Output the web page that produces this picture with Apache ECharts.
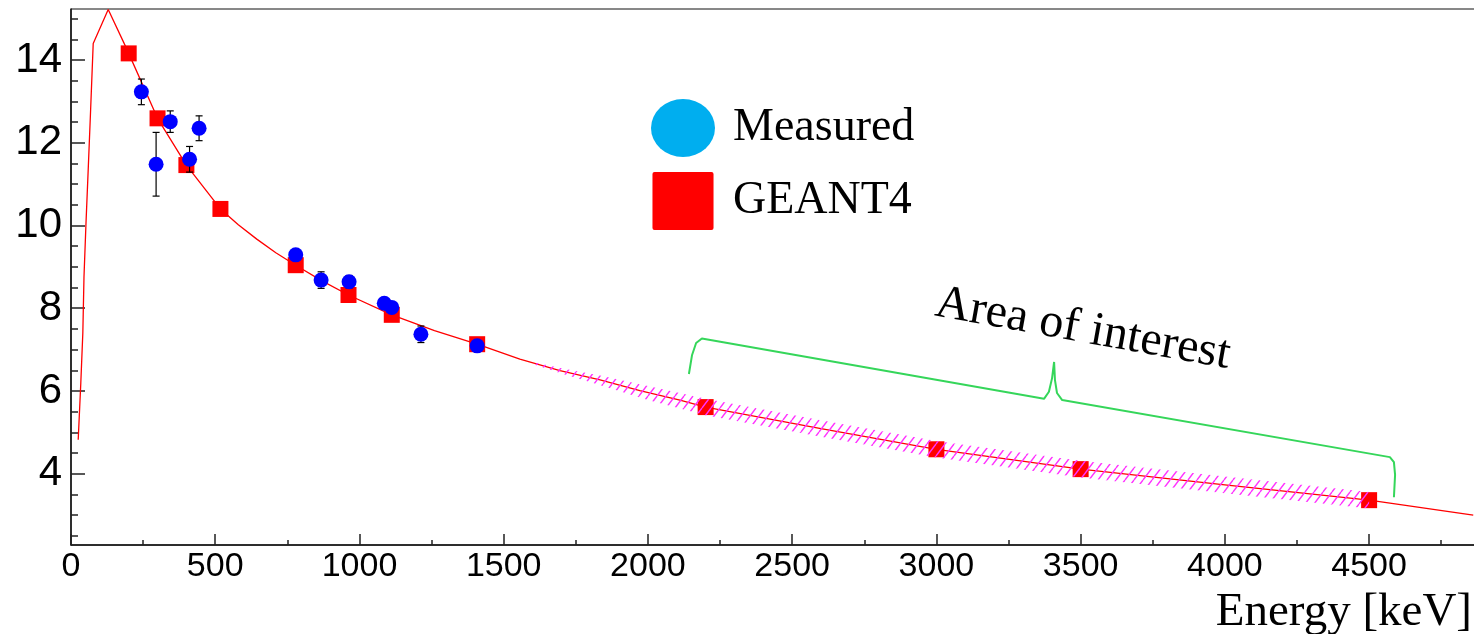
<!DOCTYPE html>
<html>
<head>
<meta charset="utf-8">
<script src="https://cdn.jsdelivr.net/npm/echarts@6/dist/echarts.min.js"></script>
<style>
html,body{margin:0;padding:0;background:#fff;}
#chart{width:1474px;height:634px;}
</style>
</head>
<body>
<div id="chart"></div>
<script>
// ---------------- data ----------------
const measuredEnergy = [244, 295, 344, 411, 444, 779, 867, 964, 1086, 1112, 1213, 1408];
const measuredValue  = [13.23, 11.48, 12.51, 11.60, 12.35, 9.29, 8.68, 8.64, 8.12, 8.02, 7.37, 7.09];
const measuredError  = [0.31, 0.77, 0.26, 0.31, 0.30, 0.12, 0.20, 0.15, 0.10, 0.10, 0.20, 0.10];

const geantEnergy = [200, 300, 400, 518, 779, 962, 1112, 1408, 2200, 3000, 3500, 4500];
const geantValue  = [14.16, 12.59, 11.46, 10.40, 9.04, 8.32, 7.84, 7.13, 5.61, 4.59, 4.11, 3.36];

const curveEnergy = [25, 34, 41, 45, 52, 60, 68, 77, 129, 187, 200, 300, 400, 518, 580, 644, 710, 779, 870, 962, 1112, 1260, 1408, 1556, 1695, 1834, 1972, 2111, 2200, 2600, 3000, 3500, 4000, 4500, 4861];
const curveValue  = [4.82, 6.19, 7.40, 8.75, 10.06, 11.41, 12.79, 14.40, 15.22, 14.36, 14.16, 12.59, 11.46, 10.40, 10.02, 9.67, 9.34, 9.04, 8.66, 8.32, 7.84, 7.46, 7.13, 6.77, 6.49, 6.27, 6.01, 5.78, 5.61, 5.09, 4.59, 4.11, 3.73, 3.36, 3.00];

const bandEnergy = [1600, 1700, 1830, 2000, 2200, 2600, 3000, 3500, 4000, 4500];
const bandLow    = [6.65, 6.42, 6.15, 5.78, 5.41, 4.89, 4.39, 3.91, 3.53, 3.16];
const bandHigh   = [6.70, 6.55, 6.38, 6.12, 5.81, 5.29, 4.79, 4.31, 3.93, 3.56];

const xMajorTicks = [0, 500, 1000, 1500, 2000, 2500, 3000, 3500, 4000, 4500];
const xMinorTicks = [250, 750, 1250, 1750, 2250, 2750, 3250, 3750, 4250, 4750];
const yMajorTicks = [4, 6, 8, 10, 12, 14];
const yMinorTicks = [2.5, 3, 3.5, 4.5, 5, 5.5, 6.5, 7, 7.5, 8.5, 9, 9.5, 10.5, 11, 11.5, 12.5, 13, 13.5, 14.5, 15];

const bracketEnergy = [2142, 2153, 2167, 2187, 3373, 3390, 3401, 3408, 3411, 3418, 3436, 4572, 4586, 4590, 4586];
const bracketValue  = [6.41, 6.87, 7.16, 7.27, 5.81, 5.98, 6.31, 6.70, 6.26, 5.95, 5.78, 4.40, 4.28, 3.97, 3.43];

const annotationText = 'Area of interest';
const annotationAnchor = [3508, 7.49];
const xTitle = 'Energy [keV]';
const seriesNames = ['Measured', 'GEANT4'];

// ---------------- helpers ----------------
function zip(a, b) { return a.map((v, i) => [v, b[i]]); }

function makeHatch() {
  const w = 9, h = 12;
  const c = document.createElement('canvas');
  c.width = w; c.height = h;
  const g = c.getContext('2d');
  g.strokeStyle = '#ff33ff';
  g.lineWidth = 1.4;
  g.beginPath();
  for (const dx of [-w, 0, w]) { g.moveTo(dx, h); g.lineTo(dx + w, 0); }
  g.stroke();
  return c;
}
const hatch = makeHatch();

const X_MIN = 0, X_MAX = 4874, Y_MIN = 2.276, Y_MAX = 15.233;
const axisColor = '#111';
const plainNum = v => String(v);

const chart = echarts.init(document.getElementById('chart'), null, { renderer: 'canvas' });

const option = {
  animation: false,
  backgroundColor: '#fff',
  grid: { left: 71, right: -3, top: 9, bottom: 89, containLabel: false, outerBoundsMode: 'none', show: true, borderColor: axisColor, borderWidth: 1, backgroundColor: 'transparent' },
  legend: {
    orient: 'vertical', left: 646, top: 94, itemWidth: 64, itemHeight: 58, itemGap: 15,
    selectedMode: false,
    textStyle: { fontFamily: 'Liberation Serif', fontSize: 46, color: '#000', padding: [0, 0, 0, 13] },
    data: [
      { name: seriesNames[0], icon: 'path://M0,29A32,29 0 1,1 64,29A32,29 0 1,1 0,29Z', itemStyle: { color: '#00aeef', opacity: 1 } },
      { name: seriesNames[1], icon: 'path://M2,0H58A2,2 0 0,1 60,2V55A2,2 0 0,1 58,57H2A2,2 0 0,1 0,55V2A2,2 0 0,1 2,0Z', itemStyle: { color: '#ff0000', opacity: 1 } }
    ]
  },
  xAxis: [
    {
      type: 'value', min: X_MIN, max: X_MAX, position: 'bottom',
      axisLine: { show: true, onZero: false, lineStyle: { color: axisColor, width: 1.5 } },
      axisTick: { show: true, inside: true, length: 11, customValues: xMajorTicks, lineStyle: { color: '#222', width: 1.5 } },
      axisLabel: { customValues: xMajorTicks, formatter: plainNum, fontFamily: 'Liberation Sans', fontSize: 34, color: '#000', margin: 5 },
      splitLine: { show: false }
    },
    {
      type: 'value', min: X_MIN, max: X_MAX, position: 'bottom',
      axisLine: { show: false, onZero: false },
      axisTick: { show: true, inside: true, length: 5, customValues: xMinorTicks, lineStyle: { color: '#222', width: 1.5 } },
      axisLabel: { show: false },
      splitLine: { show: false }
    }
  ],
  yAxis: [
    {
      type: 'value', min: Y_MIN, max: Y_MAX, position: 'left',
      axisLine: { show: true, onZero: false, lineStyle: { color: axisColor, width: 1.5 } },
      axisTick: { show: true, inside: true, length: 14, customValues: yMajorTicks, lineStyle: { color: '#222', width: 1.5 } },
      axisLabel: { customValues: yMajorTicks, formatter: plainNum, fontFamily: 'Liberation Sans', fontSize: 42, color: '#000', margin: 9 },
      splitLine: { show: false }
    },
    {
      type: 'value', min: Y_MIN, max: Y_MAX, position: 'left',
      axisLine: { show: false, onZero: false },
      axisTick: { show: true, inside: true, length: 7, customValues: yMinorTicks, lineStyle: { color: '#222', width: 1.5 } },
      axisLabel: { show: false },
      splitLine: { show: false }
    }
  ],
  series: [
    {
      name: 'Simulation curve', type: 'line', xAxisIndex: 0, yAxisIndex: 0,
      data: zip(curveEnergy, curveValue), symbol: 'none', smooth: false,
      lineStyle: { color: '#ff0000', width: 1.3, opacity: 1 }, z: 2, silent: true, clip: true
    },
    {
      name: 'Area of interest bracket', type: 'line', xAxisIndex: 0, yAxisIndex: 0,
      data: zip(bracketEnergy, bracketValue), symbol: 'none', smooth: false,
      lineStyle: { color: '#35d65a', width: 2, opacity: 1 }, z: 2, silent: true
    },
    {
      name: seriesNames[1], type: 'scatter', xAxisIndex: 0, yAxisIndex: 0,
      data: zip(geantEnergy, geantValue), symbol: 'rect', symbolSize: 16,
      itemStyle: { color: '#ff0000', opacity: 1 }, z: 3, silent: true
    },
    {
      name: 'Uncertainty band', type: 'custom', xAxisIndex: 0, yAxisIndex: 0,
      data: [[bandEnergy[0], bandLow[0]]], z: 4, silent: true, clip: true,
      renderItem: function (params, api) {
        if (params.dataIndex !== 0) return;
        const pts = [];
        for (let i = 0; i < bandEnergy.length; i++) pts.push(api.coord([bandEnergy[i], bandHigh[i]]));
        for (let i = bandEnergy.length - 1; i >= 0; i--) pts.push(api.coord([bandEnergy[i], bandLow[i]]));
        return { type: 'polygon', shape: { points: pts }, style: { fill: { image: hatch, repeat: 'repeat' }, stroke: null } };
      }
    },
    {
      name: 'Measured error', type: 'custom', xAxisIndex: 0, yAxisIndex: 0,
      data: measuredEnergy.map((e, i) => [e, measuredValue[i], measuredError[i]]), z: 5, silent: true,
      renderItem: function (params, api) {
        const x = api.value(0), y = api.value(1), e = api.value(2);
        const t = api.coord([x, y + e]), b = api.coord([x, y - e]);
        const cw = 3.5, st = { stroke: '#000', lineWidth: 1.2 };
        return {
          type: 'group', children: [
            { type: 'line', shape: { x1: t[0], y1: t[1], x2: b[0], y2: b[1] }, style: st },
            { type: 'line', shape: { x1: t[0] - cw, y1: t[1], x2: t[0] + cw, y2: t[1] }, style: st },
            { type: 'line', shape: { x1: b[0] - cw, y1: b[1], x2: b[0] + cw, y2: b[1] }, style: st }
          ]
        };
      }
    },
    {
      name: seriesNames[0], type: 'scatter', xAxisIndex: 0, yAxisIndex: 0,
      data: zip(measuredEnergy, measuredValue), symbol: 'circle', symbolSize: 15,
      itemStyle: { color: '#0000ff', opacity: 1 }, z: 6, silent: true
    }
  ]
};

chart.setOption(option);

const p = chart.convertToPixel({ xAxisIndex: 0, yAxisIndex: 0 }, annotationAnchor);
chart.setOption({
  graphic: [
    {
      type: 'text', x: p[0], y: p[1], rotation: -10.2 * Math.PI / 180, silent: true,
      style: { text: annotationText, font: '48px "Liberation Serif"', fill: '#000', align: 'center', verticalAlign: 'middle' }
    },
    {
      type: 'text', right: 2, top: 589, silent: true,
      style: { text: xTitle, font: '47px "Liberation Serif"', fill: '#000' }
    }
  ]
});
</script>
</body>
</html>
